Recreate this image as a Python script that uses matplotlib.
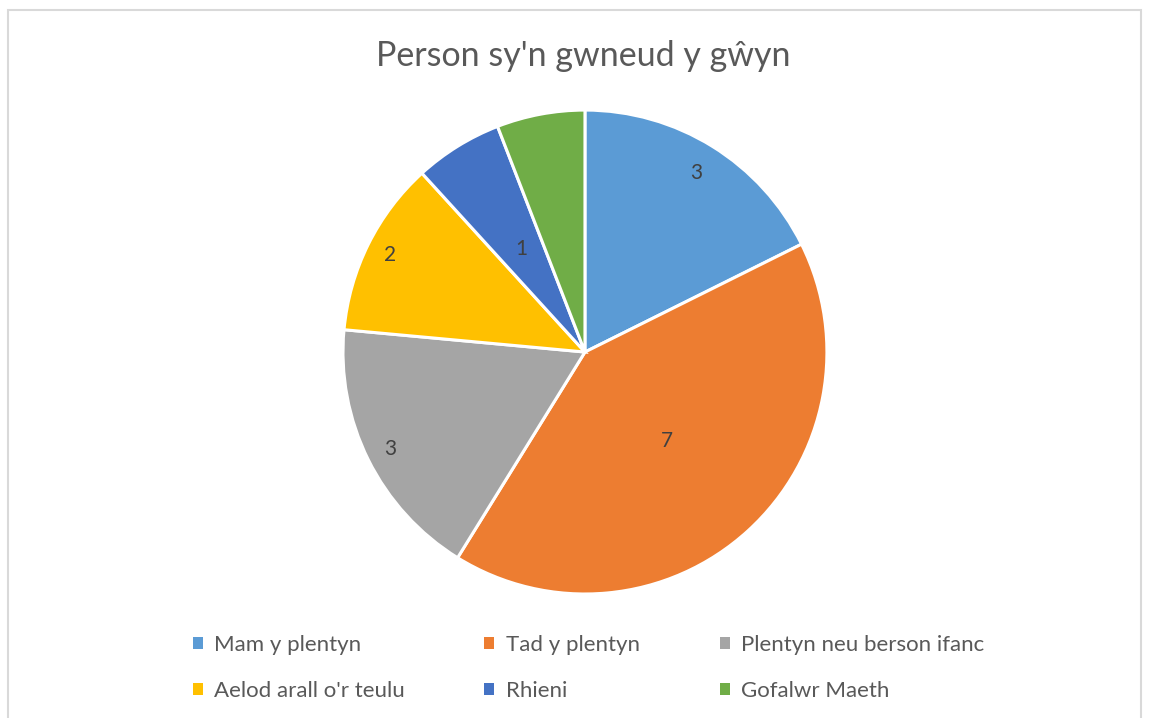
import numpy as np
import matplotlib.pyplot as plt
from matplotlib.patches import Rectangle, Patch

plt.rcParams['font.family'] = ['Lato', 'DejaVu Sans']

# data
categories = ['Mam y plentyn', 'Tad y plentyn', 'Plentyn neu berson ifanc',
              'Aelod arall o\'r teulu', 'Rhieni', 'Gofalwr Maeth']
values = [3, 7, 3, 2, 1, 1]
show_label = [True, True, True, True, True, False]
colors = ['#5B9BD5', '#ED7D31', '#A5A5A5', '#FFC000', '#4472C4', '#70AD47']
label_r = [0.87, 0.5, 0.9, 0.9, 0.5, 0.5]

fig = plt.figure(figsize=(11.49, 7.18), dpi=100)

# chart frame
fig.patches.append(Rectangle((8 / 1149, -0.1), 1133 / 1149, 0.1 + 1 - 10 / 718,
                             transform=fig.transFigure, fill=False,
                             edgecolor='#D9D9D9', linewidth=1.5))

ax = fig.add_axes([0.2985, 0.1727, 0.4212, 0.674])
wedges, _ = ax.pie(values, colors=colors, startangle=90, counterclock=False,
                   radius=1.0, wedgeprops=dict(edgecolor='white', linewidth=2.2))
ax.set_xlim(-1, 1)
ax.set_ylim(-1, 1)
ax.set_aspect('equal')

for w, v, show, r in zip(wedges, values, show_label, label_r):
    if not show:
        continue
    ang = np.deg2rad((w.theta1 + w.theta2) / 2)
    ax.text(r * np.cos(ang), r * np.sin(ang), str(v), ha='center', va='center',
            fontsize=15, color='#404040')

fig.text(0.508, 1 - 56 / 718, "Person sy'n gwneud y gŵyn", ha='center', va='center',
         fontsize=24.5, color='#595959')

# legend filled row by row (matplotlib fills columns first)
order = [0, 3, 1, 4, 2, 5]
handles = [Patch(facecolor=colors[i], edgecolor='none') for i in order]
labels = [categories[i] for i in order]
fig.legend(handles, labels, loc='center', bbox_to_anchor=(0.512, 1 - 668 / 718),
           ncol=3, frameon=False, fontsize=16, labelcolor='#595959',
           handlelength=0.45, handleheight=0.45, handletextpad=0.5,
           columnspacing=3.6, labelspacing=1.15)

plt.savefig('out.png', dpi=100)
